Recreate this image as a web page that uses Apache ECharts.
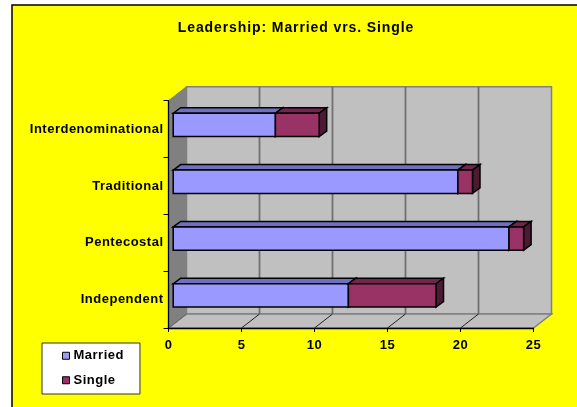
<!DOCTYPE html>
<html><head><meta charset="utf-8">
<style>html,body{margin:0;padding:0;background:#fff}#c{width:577px;height:407px}</style>
<script src="https://cdn.jsdelivr.net/npm/echarts@6/dist/echarts.min.js"></script>
</head><body><div id="c"></div>
<script>
const categories = ['Independent', 'Pentecostal', 'Traditional', 'Interdenominational'];
const married = [12, 23, 19.5, 7];
const single = [6, 1, 1, 3];
const xTicks = [0, 5, 10, 15, 20, 25];
const titleText = 'Leadership: Married vrs. Single';

const DEPTH_X = 18, DEPTH_Y = -14, BAR_DX = 4.7, BAR_DY = -4.2, BAR_DEPTH_X = 7.5, BAR_DEPTH_Y = -5.5;
const font = 'Liberation Sans';

// The source chart's text is tracked out; apply the same spacing to drawing and measuring.
['fillText', 'strokeText', 'measureText'].forEach(m => {
  const orig = CanvasRenderingContext2D.prototype[m];
  CanvasRenderingContext2D.prototype[m] = function (...a) {
    this.letterSpacing = /\b14px/.test(this.font) ? '0.9px' : '0.5px';
    return orig.apply(this, a);
  };
});

const chart = echarts.init(document.getElementById('c'), null, {renderer: 'canvas'});

function poly(points, fill, stroke, w) {
  return {type: 'polygon', shape: {points}, style: {fill, stroke, lineWidth: w}};
}
function seg(a, b, stroke, w) {
  return {type: 'line', shape: {x1: a[0], y1: a[1], x2: b[0], y2: b[1]}, style: {stroke, lineWidth: w}};
}
function backdrop(params, api) {
  const cs = params.coordSys;
  const L = cs.x, R = cs.x + cs.width, T = cs.y, B = cs.y + cs.height;
  const back = (x, y) => [x + DEPTH_X, y + DEPTH_Y];
  const kids = [
    poly([back(L, T), back(R, T), back(R, B), back(L, B)], '#C0C0C0', '#808080', 1.5),
    poly([[L, B], [R, B], back(R, B), back(L, B)], '#C0C0C0', '#808080', 1.5),
    poly([[L, T], back(L, T), back(L, B), [L, B]], '#808080', '#808080', 1)
  ];
  xTicks.forEach(t => {
    const x = api.coord([t, categories[0]])[0];
    if (t > 0 && t < 25) kids.push(seg(back(x, T), back(x, B), '#707070', 1.8));
    if (t < 25) kids.push(seg([x, B], back(x, B), t === 0 ? '#666666' : '#222222', 1));
  });
  return {type: 'group', children: kids};
}
function bar3d(start, vals, front, top, side) {
  return function (params, api) {
    const i = api.value(2);
    const p0 = api.coord([start ? start[i] : 0, categories[i]]);
    const p1 = api.coord([(start ? start[i] : 0) + vals[i], categories[i]]);
    const h = api.size([0, 1])[1] * 0.41;
    const x0 = p0[0] + BAR_DX, x1 = p1[0] + BAR_DX;
    const y0 = p0[1] + BAR_DY - h / 2, y1 = y0 + h;
    const ax = BAR_DEPTH_X, ay = BAR_DEPTH_Y;
    const s = '#000000', w = 1.5;
    return {type: 'group', children: [
      poly([[x0, y0], [x0 + ax, y0 + ay], [x1 + ax, y0 + ay], [x1, y0]], top, s, w),
      poly([[x1, y0], [x1 + ax, y0 + ay], [x1 + ax, y1 + ay], [x1, y1]], side, s, w),
      poly([[x0, y0], [x1, y0], [x1, y1], [x0, y1]], front, s, w)
    ]};
  };
}
chart.setOption({
  animation: false,
  backgroundColor: '#ffffff',
  textStyle: {fontFamily: font},
  graphic: [{type: 'rect', z: -10, shape: {x: 12, y: 5, width: 566, height: 403},
    style: {fill: '#FFFF00', stroke: '#000000', lineWidth: 1.5}}],
  title: {text: titleText, left: 291, top: 16, textAlign: 'center',
    textStyle: {fontFamily: font, fontSize: 14, fontWeight: 'bold', color: '#000'}},
  legend: {
    data: [{name: 'Married', itemStyle: {color: '#9999FF'}}, {name: 'Single', itemStyle: {color: '#993366'}}],
    orient: 'vertical', left: 42, top: 343, icon: 'rect', itemWidth: 7, itemHeight: 7, itemGap: 11,
    padding: [6, 16, 7, 20], backgroundColor: '#fff', borderColor: '#333', borderWidth: 1,
    itemStyle: {borderColor: '#000', borderWidth: 1},
    textStyle: {fontFamily: font, fontSize: 13, fontWeight: 'bold', color: '#000', padding: [0, 0, 0, -1]}
  },
  grid: {left: 168.5, right: 43.5, top: 100.7, bottom: 79},
  xAxis: {type: 'value', min: 0, max: 25, interval: 5, z: 5,
    axisLine: {show: true, lineStyle: {color: '#000', width: 1.3}},
    axisTick: {show: true, length: 4, inside: false, lineStyle: {color: '#000'}},
    splitLine: {show: false},
    axisLabel: {color: '#000', fontFamily: font, fontSize: 13, fontWeight: 'bold', margin: 11,
      customValues: xTicks}},
  yAxis: {type: 'category', data: categories, z: 5,
    axisLine: {show: true, lineStyle: {color: '#000', width: 1.3}},
    axisTick: {show: true, length: 5, lineStyle: {color: '#000'}},
    axisLabel: {color: '#000', fontFamily: font, fontSize: 13, fontWeight: 'bold', margin: 5}},
  series: [
    {type: 'custom', name: 'wall', z: 1, silent: true, renderItem: backdrop, data: [[0, 0]],
      encode: {x: 0, y: 1}, clip: false},
    {type: 'custom', name: 'Married', z: 2, itemStyle: {color: '#9999FF'},
      renderItem: bar3d(null, married, '#9999FF', '#7070C0', '#4D4D80'),
      data: married.map((v, i) => [v, categories[i], i]), encode: {x: 0, y: 1}},
    {type: 'custom', name: 'Single', z: 3, itemStyle: {color: '#993366'},
      renderItem: bar3d(married, single, '#993366', '#73264D', '#4D1A33'),
      data: single.map((v, i) => [married[i] + v, categories[i], i]), encode: {x: 0, y: 1}}
  ]
});
</script></body></html>
